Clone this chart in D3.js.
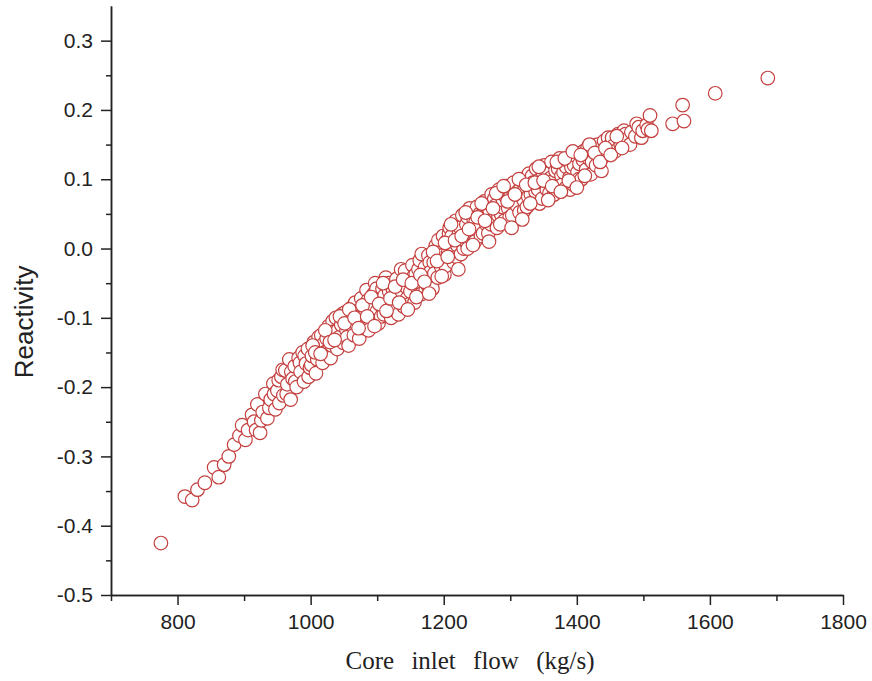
<!DOCTYPE html>
<html>
<head>
<meta charset="utf-8">
<script src="https://cdn.jsdelivr.net/npm/d3@7"></script>
<style>
	body { margin: 0; background: #fff; }
	.axis path, .axis line { stroke: #222; stroke-width: 1.5; }
	.axis text { font-family: "Liberation Sans", Arial, sans-serif; font-size: 21px; fill: #222; }
</style>
</head>
<body>
<svg id="chart" width="872" height="681"></svg>
<script>
// core inlet flow (kg/s)
var flow = [
	775, 811, 822, 830, 841, 855, 862, 870, 877, 885, 893, 897, 902, 906, 912, 915,
	918, 920, 924, 926, 928, 932, 935, 938, 940, 944, 945, 947, 950, 952, 953, 956,
	958, 959, 962, 964, 965, 968, 970, 971, 973, 976, 977, 979, 982, 984, 985, 988,
	990, 991, 993, 996, 997, 999, 1001, 1002, 1005, 1008, 1010, 1012, 1013, 1016, 1018, 1019,
	1021, 1024, 1026, 1027, 1030, 1032, 1033, 1035, 1038, 1040, 1041, 1043, 1046, 1047, 1049, 1052,
	1054, 1055, 1057, 1060, 1062, 1063, 1065, 1067, 1068, 1071, 1073, 1074, 1076, 1079, 1081, 1082,
	1084, 1086, 1087, 1089, 1092, 1093, 1095, 1097, 1099, 1100, 1102, 1105, 1106, 1108, 1110, 1111,
	1113, 1116, 1117, 1118, 1121, 1123, 1124, 1126, 1129, 1130, 1132, 1134, 1136, 1137, 1140, 1142,
	1143, 1145, 1148, 1149, 1150, 1153, 1155, 1156, 1158, 1161, 1162, 1164, 1166, 1167, 1169, 1172,
	1173, 1175, 1177, 1179, 1180, 1183, 1185, 1186, 1188, 1191, 1192, 1193, 1196, 1198, 1199, 1201,
	1203, 1204, 1207, 1208, 1209, 1212, 1214, 1215, 1218, 1219, 1220, 1223, 1225, 1226, 1228, 1230,
	1231, 1234, 1236, 1236, 1239, 1241, 1242, 1245, 1247, 1248, 1250, 1253, 1254, 1256, 1258, 1259,
	1261, 1264, 1265, 1267, 1269, 1271, 1272, 1275, 1276, 1278, 1280, 1282, 1283, 1286, 1288, 1289,
	1291, 1293, 1294, 1297, 1299, 1300, 1303, 1304, 1305, 1308, 1310, 1311, 1314, 1316, 1317, 1320,
	1321, 1322, 1325, 1327, 1328, 1331, 1333, 1334, 1336, 1338, 1339, 1342, 1344, 1345, 1348, 1349,
	1351, 1353, 1355, 1356, 1359, 1361, 1362, 1365, 1366, 1368, 1371, 1372, 1374, 1377, 1378, 1380,
	1383, 1384, 1386, 1389, 1390, 1392, 1395, 1396, 1398, 1401, 1403, 1404, 1407, 1409, 1410, 1414,
	1416, 1418, 1421, 1423, 1425, 1429, 1431, 1433, 1437, 1439, 1441, 1445, 1447, 1449, 1453, 1455,
	1457, 1462, 1464, 1466, 1471, 1473, 1476, 1480, 1482, 1488, 1490, 1493, 1497, 1499, 1505, 1507,
	1003, 1007, 1015, 1022, 1029, 1036, 1044, 1051, 1058, 1066, 1072, 1078, 1085, 1091, 1096, 1103,
	1109, 1114, 1120, 1127, 1133, 1139, 1146, 1152, 1159, 1165, 1171, 1178, 1184, 1190, 1197, 1202,
	1206, 1211, 1217, 1222, 1227, 1233, 1238, 1244, 1251, 1257, 1262, 1268, 1274, 1279, 1285, 1290,
	1296, 1302, 1307, 1313, 1318, 1324, 1330, 1337, 1343, 1350, 1357, 1363, 1370, 1376, 1382, 1388,
	1394, 1400, 1406, 1412, 1419, 1427, 1435, 1443, 1451, 1460, 1468,
	1510, 1512, 1544, 1559, 1561, 1608, 1687
];

// reactivity, same order as flow
var reactivity = [
	-0.425, -0.358, -0.363, -0.348, -0.338, -0.316, -0.330, -0.312, -0.300, -0.283, -0.270, -0.255, -0.276, -0.262, -0.240, -0.250,
	-0.262, -0.225, -0.266, -0.248, -0.236, -0.210, -0.245, -0.230, -0.218, -0.195, -0.210, -0.232, -0.205, -0.190, -0.223, -0.185,
	-0.175, -0.212, -0.176, -0.210, -0.196, -0.160, -0.218, -0.178, -0.188, -0.170, -0.192, -0.200, -0.158, -0.165, -0.178, -0.150,
	-0.192, -0.155, -0.166, -0.145, -0.185, -0.172, -0.168, -0.155, -0.135, -0.180, -0.160, -0.128, -0.142, -0.125, -0.165, -0.138,
	-0.150, -0.130, -0.148, -0.112, -0.158, -0.140, -0.105, -0.120, -0.100, -0.145, -0.118, -0.128, -0.110, -0.095, -0.136, -0.092,
	-0.118, -0.128, -0.140, -0.102, -0.085, -0.112, -0.125, -0.078, -0.108, -0.090, -0.130, -0.098, -0.072, -0.112, -0.095, -0.115,
	-0.060, -0.075, -0.118, -0.083, -0.100, -0.085, -0.065, -0.050, -0.058, -0.090, -0.108, -0.075, -0.098, -0.058, -0.095, -0.068,
	-0.042, -0.080, -0.050, -0.062, -0.100, -0.088, -0.060, -0.082, -0.044, -0.070, -0.095, -0.067, -0.030, -0.052, -0.084, -0.032,
	-0.055, -0.072, -0.047, -0.080, -0.062, -0.024, -0.040, -0.078, -0.037, -0.057, -0.030, -0.017, -0.066, -0.008, -0.042, -0.027,
	-0.060, -0.052, -0.010, -0.020, -0.034, -0.058, -0.020, -0.036, 0.004, -0.042, 0.012, -0.006, -0.026, -0.010, 0.018, -0.038,
	-0.025, 0.010, -0.005, 0.022, 0.030, 0.018, 0.002, -0.020, 0.040, -0.012, 0.005, 0.022, 0.030, -0.008, 0.048, 0.000,
	0.012, 0.035, 0.000, 0.045, 0.058, 0.015, 0.025, 0.042, 0.010, 0.038, 0.060, 0.030, 0.050, 0.018, 0.050, 0.022,
	0.068, 0.035, 0.060, 0.022, 0.055, 0.035, 0.078, 0.042, 0.072, 0.062, 0.030, 0.048, 0.085, 0.050, 0.060, 0.070,
	0.040, 0.075, 0.090, 0.058, 0.045, 0.075, 0.048, 0.085, 0.095, 0.065, 0.062, 0.082, 0.052, 0.090, 0.100, 0.070,
	0.055, 0.088, 0.060, 0.075, 0.108, 0.078, 0.105, 0.095, 0.068, 0.082, 0.115, 0.085, 0.065, 0.100, 0.072, 0.110,
	0.120, 0.092, 0.085, 0.108, 0.080, 0.102, 0.125, 0.098, 0.078, 0.112, 0.090, 0.115, 0.130, 0.105, 0.092, 0.110,
	0.087, 0.118, 0.127, 0.102, 0.085, 0.117, 0.092, 0.120, 0.134, 0.110, 0.100, 0.122, 0.100, 0.128, 0.140, 0.114,
	0.145, 0.130, 0.107, 0.125, 0.142, 0.120, 0.150, 0.134, 0.112, 0.132, 0.155, 0.135, 0.160, 0.148, 0.160, 0.148,
	0.140, 0.165, 0.158, 0.150, 0.170, 0.165, 0.158, 0.150, 0.168, 0.162, 0.180, 0.175, 0.160, 0.170, 0.178, 0.172,
	-0.140, -0.150, -0.152, -0.118, -0.135, -0.132, -0.098, -0.108, -0.088, -0.100, -0.115, -0.082, -0.098, -0.070, -0.112, -0.080,
	-0.050, -0.090, -0.072, -0.055, -0.078, -0.045, -0.088, -0.050, -0.070, -0.038, -0.048, -0.065, -0.005, -0.018, -0.040, 0.008,
	-0.012, 0.035, 0.012, -0.030, 0.018, 0.052, 0.028, 0.005, 0.045, 0.065, 0.040, 0.010, 0.058, 0.080, 0.035, 0.090,
	0.068, 0.030, 0.078, 0.100, 0.042, 0.092, 0.065, 0.095, 0.118, 0.098, 0.070, 0.090, 0.125, 0.082, 0.130, 0.098,
	0.140, 0.088, 0.135, 0.105, 0.150, 0.138, 0.125, 0.145, 0.135, 0.162, 0.145,
	0.192, 0.170, 0.180, 0.207, 0.184, 0.224, 0.246
];

var xTicks = [800, 1000, 1200, 1400, 1600, 1800];
var xMinorTicks = [700, 900, 1100, 1300, 1500, 1700];
var yTicks = [-0.5, -0.4, -0.3, -0.2, -0.1, 0.0, 0.1, 0.2, 0.3];
var yMinorTicks = [-0.45, -0.35, -0.25, -0.15, -0.05, 0.05, 0.15, 0.25];

var margin = { top: 6, right: 29, bottom: 86, left: 111 };
var svg = d3.select("#chart");
var width = +svg.attr("width") - margin.left - margin.right;
var height = +svg.attr("height") - margin.top - margin.bottom;

var g = svg.append("g")
	.attr("transform", "translate(" + margin.left + "," + margin.top + ")");

var x = d3.scaleLinear().domain([700, 1800]).range([0, width]);
var y = d3.scaleLinear().domain([-0.5, 0.35]).range([height, 0]);

var points = flow.map(function(d, i) {
	return { flow: d, reactivity: reactivity[i] };
});

g.append("g").attr("class", "dots")
	.selectAll("circle")
	.data(points)
	.enter().append("circle")
	.attr("cx", function(d) { return x(d.flow); })
	.attr("cy", function(d) { return y(d.reactivity); })
	.attr("r", 6.8)
	.attr("fill", "#fff")
	.attr("stroke", "#c4403f")
	.attr("stroke-width", 1.2);

// minor ticks first, majors on top
g.append("g").attr("class", "axis")
	.attr("transform", "translate(0," + height + ")")
	.call(d3.axisBottom(x).tickValues(xMinorTicks).tickSize(6).tickSizeOuter(0).tickFormat(""));

g.append("g").attr("class", "axis")
	.call(d3.axisLeft(y).tickValues(yMinorTicks).tickSize(5).tickSizeOuter(0).tickFormat(""));

g.append("g").attr("class", "axis")
	.attr("transform", "translate(0," + height + ")")
	.call(d3.axisBottom(x).tickValues(xTicks).tickSize(10).tickSizeOuter(0).tickPadding(9)
		.tickFormat(d3.format("d")));

var yAxis = g.append("g").attr("class", "axis")
	.call(d3.axisLeft(y).tickValues(yTicks).tickSize(10).tickSizeOuter(0).tickPadding(8)
		.tickFormat(d3.format(".1f")));

// d3 uses a unicode minus, the figure has a hyphen
yAxis.selectAll("text").text(function(d) { return d3.format(".1f")(d).replace("\u2212", "-"); });

svg.append("text")
	.attr("transform", "translate(33," + (margin.top + y(-0.1) + 4) + ") rotate(-90)")
	.attr("text-anchor", "middle")
	.style("font-family", "'Liberation Sans', Arial, sans-serif")
	.style("font-size", "26px")
	.style("fill", "#222")
	.text("Reactivity");

svg.append("text")
	.attr("x", 470)
	.attr("y", 669)
	.attr("text-anchor", "middle")
	.style("font-family", "'Liberation Serif', 'Times New Roman', serif")
	.style("font-size", "25px")
	.style("word-spacing", "11px")
	.style("fill", "#222")
	.text("Core inlet flow (kg/s)");
</script>
</body>
</html>
